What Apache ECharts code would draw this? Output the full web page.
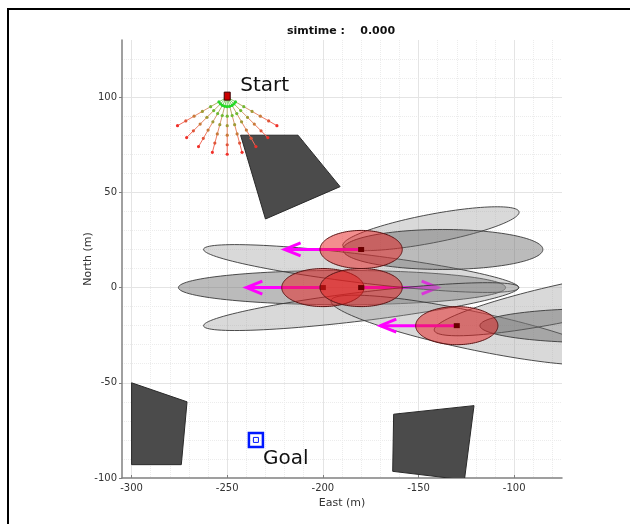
<!DOCTYPE html>
<html>
<head>
<meta charset="utf-8">
<script src="https://cdn.jsdelivr.net/npm/echarts@6/dist/echarts.min.js"></script>
<style>
  html, body { margin: 0; padding: 0; background: #ffffff; }
  #chart { width: 630px; height: 524px; }
</style>
</head>
<body>
<div id="chart"></div>
<script>
// ---- scene data (metres, East / North) ----
const simTime = '0.000';
const eastRange = [-305, -75];
const northRange = [-100, 130];

const robotStart = [-250, 100];
const startLabel = 'Start';
const goalPos = [-235, -80];
const goalLabel = 'Goal';

// range sensor: beam directions measured from due south, sample ranges along each beam
const beamAnglesDeg = [-60, -45, -30, -15, 0, 15, 30, 45, 60];
const beamRanges = [5, 10, 15, 20, 25, 30];

// static obstacles (polygon vertices)
const obstacleNorth = [[-243, 80], [-213, 80], [-191, 53], [-230, 36]];
const obstacleWest = [[-300, -50], [-271, -60], [-274, -93], [-300, -93]];
const obstacleSouth = [[-163, -66.5], [-121, -62], [-126, -101], [-163.5, -96.5]];

// moving agents: position and velocity
const agentEast = [-180, -200, -180, -130];
const agentNorth = [20, 0, 0, -20];
const agentVelEast = [-40, -40, 40, -40];
const agentVelNorth = [0, 0, 0, 0];
const agentSemiAxes = [21.5, 10];

// predicted spread ellipses: centre, semi-axes, heading (deg), tone (0 light, 1 medium)
const spreadEast  = [-190, -180, -180, -143.5, -137.3, -122.4, -68.4, -54.9];
const spreadNorth = [0, 10, -10, 30.9, 20, -22.4, -6.9, -20];
const spreadMajor = [85.5, 83, 83, 46.9, 52.3, 75, 75, 63];
const spreadMinor = [9, 7.5, 7.5, 7.5, 10.5, 10, 10, 9];
const spreadHeading = [0, -7, 7, 10.9, 0, -12, 12, 0];
const spreadTone = [1, 0, 0, 0, 1, 0, 0, 1];
const spreadLayer = [0, 1, 1, 1, 1, 1, 1, 1];

// ---- styling ----
const FONT = 'DejaVu Sans';
const toneFill = ['rgba(150,150,150,0.36)', 'rgba(105,105,105,0.45)'];
const beamDotColors = ['#2fd02f', '#72b832', '#a09a36', '#c87a3a', '#e0553a', '#f0302a'];
const beamLineColors = ['#7fcf6a', '#b9b06a', '#d89a70', '#e88a6a', '#ef7a62', '#f26a5a'];

function ellipseRing(cx, cy, a, b, rotDeg, api) {
  const th = rotDeg * Math.PI / 180;
  const pts = [];
  const n = 120;
  for (let i = 0; i < n; i++) {
    const t = i / n * 2 * Math.PI;
    const ex = a * Math.cos(t), ey = b * Math.sin(t);
    pts.push(api.coord([cx + ex * Math.cos(th) - ey * Math.sin(th),
                        cy + ex * Math.sin(th) + ey * Math.cos(th)]));
  }
  return pts;
}

function spreadSeries(layer, z) {
  const idx = [];
  spreadEast.forEach((_, i) => { if (spreadLayer[i] === layer) idx.push(i); });
  return {
    type: 'custom', z: z, clip: true, silent: true,
    data: idx.map(i => [spreadEast[i], spreadNorth[i], i]),
    renderItem: (params, api) => {
      const i = api.value(2);
      return {
        type: 'polygon',
        shape: { points: ellipseRing(spreadEast[i], spreadNorth[i], spreadMajor[i], spreadMinor[i], spreadHeading[i], api) },
        style: { fill: toneFill[spreadTone[i]], stroke: '#3a3a3a', lineWidth: 0.9 }
      };
    }
  };
}

function arrowSeries(agentIdx, z) {
  return {
    type: 'custom', z: z, clip: true, silent: true,
    data: agentIdx.map(i => [agentEast[i], agentNorth[i], i]),
    renderItem: (params, api) => {
      const i = api.value(2);
      const p0 = api.coord([agentEast[i], agentNorth[i]]);
      const p1 = api.coord([agentEast[i] + agentVelEast[i], agentNorth[i] + agentVelNorth[i]]);
      const dx = p1[0] - p0[0], dy = p1[1] - p0[1];
      const len = Math.hypot(dx, dy);
      const ux = dx / len, uy = dy / len;
      const hl = 16, hw = 6.5;
      const b1 = [p1[0] - ux * hl - uy * hw, p1[1] - uy * hl + ux * hw];
      const b2 = [p1[0] - ux * hl + uy * hw, p1[1] - uy * hl - ux * hw];
      const st = { stroke: '#ff00ff', lineWidth: 3, fill: 'none', lineJoin: 'miter' };
      return {
        type: 'group',
        children: [
          { type: 'polyline', shape: { points: [p0, p1] }, style: st },
          { type: 'polyline', shape: { points: [b1, p1, b2] }, style: st }
        ]
      };
    }
  };
}

const obstacles = [obstacleNorth, obstacleWest, obstacleSouth];

const chart = echarts.init(document.getElementById('chart'), null, { renderer: 'canvas' });

const option = {
  animation: false,
  backgroundColor: '#ffffff',
  textStyle: { fontFamily: FONT },
  grid: { left: 122, top: 40, right: 68, bottom: 46, containLabel: false },
  xAxis: {
    type: 'value', min: eastRange[0], max: eastRange[1],
    name: 'East (m)', nameLocation: 'middle', nameGap: 20, nameMoveOverlap: false,
    nameTextStyle: { color: '#333333', fontSize: 11, fontFamily: FONT },
    axisLine: { show: true, onZero: false, lineStyle: { color: '#808080', width: 1.5 } },
    axisTick: { show: true, inside: true, length: 3, lineStyle: { color: '#808080' } },
    axisLabel: { showMinLabel: false, showMaxLabel: false, color: '#333333', fontSize: 10, fontFamily: FONT, margin: 5 },
    splitLine: { show: true, showMinLine: false, showMaxLine: false, lineStyle: { color: '#e4e4e4', width: 1 } },
    minorTick: { show: false, splitNumber: 5 },
    minorSplitLine: { show: true, lineStyle: { color: '#ececec', type: 'dotted', width: 1 } }
  },
  yAxis: {
    type: 'value', min: northRange[0], max: northRange[1],
    name: 'North (m)', nameLocation: 'middle', nameGap: 28, nameRotate: 90, nameMoveOverlap: false,
    nameTextStyle: { color: '#333333', fontSize: 11, fontFamily: FONT },
    axisLine: { show: true, onZero: false, lineStyle: { color: '#808080', width: 1.5 } },
    axisTick: { show: true, inside: false, length: 3, lineStyle: { color: '#808080' } },
    axisLabel: { showMinLabel: true, showMaxLabel: false, color: '#333333', fontSize: 10, fontFamily: FONT, margin: 5 },
    splitLine: { show: true, showMinLine: false, showMaxLine: false, lineStyle: { color: '#e4e4e4', width: 1 } },
    minorTick: { show: false, splitNumber: 5 },
    minorSplitLine: { show: true, lineStyle: { color: '#ececec', type: 'dotted', width: 1 } }
  },
  graphic: [
    {
      type: 'polyline', silent: true, z: -10,
      shape: { points: [[8, 530], [8, 9], [640, 9]] },
      style: { fill: 'none', stroke: '#000000', lineWidth: 2 }
    },
    {
      type: 'text', silent: true, x: 341, y: 31,
      style: {
        text: 'simtime :    ' + simTime,
        font: 'bold 11px ' + FONT, fill: '#111111',
        align: 'center', verticalAlign: 'middle',
        textAlign: 'center', textVerticalAlign: 'middle'
      }
    }
  ],
  series: [
    // static obstacles
    {
      type: 'custom', z: 2, clip: true, silent: true,
      data: obstacles.map((poly, i) => [poly[0][0], poly[0][1], i]),
      renderItem: (params, api) => {
        const poly = obstacles[api.value(2)];
        return {
          type: 'polygon',
          shape: { points: poly.map(p => api.coord(p)) },
          style: { fill: '#4b4b4b', stroke: '#2a2a2a', lineWidth: 1 }
        };
      }
    },
    // range sensor fan
    {
      type: 'custom', z: 3, clip: true, silent: true,
      data: beamAnglesDeg.map(a => [robotStart[0], robotStart[1], a]),
      renderItem: (params, api) => {
        const ang = api.value(2) * Math.PI / 180;
        const o = api.coord(robotStart);
        const pts = beamRanges.map(r => api.coord([robotStart[0] + Math.sin(ang) * r, robotStart[1] - Math.cos(ang) * r]));
        const children = [];
        let prev = o;
        pts.forEach((p, k) => {
          children.push({ type: 'line', shape: { x1: prev[0], y1: prev[1], x2: p[0], y2: p[1] },
                          style: { stroke: beamLineColors[k], lineWidth: 1 } });
          prev = p;
        });
        pts.forEach((p, k) => {
          children.push({ type: 'circle', shape: { cx: p[0], cy: p[1], r: 1.6 },
                          style: { fill: beamDotColors[k] } });
        });
        return { type: 'group', children: children };
      }
    },
    // near-range arc of the sensor fan and the robot body
    {
      type: 'custom', z: 4, clip: true, silent: true,
      data: [[robotStart[0], robotStart[1]]],
      renderItem: (params, api) => {
        const r0 = beamRanges[0];
        const a0 = beamAnglesDeg[0], a1 = beamAnglesDeg[beamAnglesDeg.length - 1];
        const arc = [];
        for (let a = a0; a <= a1; a += 5) {
          const t = a * Math.PI / 180;
          arc.push(api.coord([robotStart[0] + Math.sin(t) * r0, robotStart[1] - Math.cos(t) * r0]));
        }
        const c = api.coord(robotStart);
        return {
          type: 'group',
          children: [
            { type: 'polyline', shape: { points: arc }, style: { stroke: '#22dd22', lineWidth: 1.5, fill: 'none' } },
            { type: 'rect', shape: { x: c[0] - 3, y: c[1] - 5, width: 6, height: 8 },
              style: { fill: '#cc0000', stroke: '#3a0000', lineWidth: 1 } }
          ]
        };
      }
    },
    // predicted spread of the moving agents
    spreadSeries(0, 5),
    arrowSeries([2], 6),
    spreadSeries(1, 7),
    arrowSeries([0, 1, 3], 8),
    // agent footprints
    {
      type: 'custom', z: 9, clip: true, silent: true,
      data: agentEast.map((x, i) => [x, agentNorth[i], i]),
      renderItem: (params, api) => {
        const i = api.value(2);
        const c = api.coord([agentEast[i], agentNorth[i]]);
        return {
          type: 'group',
          children: [
            { type: 'polygon',
              shape: { points: ellipseRing(agentEast[i], agentNorth[i], agentSemiAxes[0], agentSemiAxes[1], 0, api) },
              style: { fill: 'rgba(232,30,30,0.5)', stroke: '#5a1414', lineWidth: 1 } },
            { type: 'rect', shape: { x: c[0] - 3, y: c[1] - 2.5, width: 6, height: 5 },
              style: { fill: '#6a0000' } }
          ]
        };
      }
    },
    // start / goal markers and labels
    {
      type: 'custom', z: 10, clip: false, silent: true,
      data: [[goalPos[0], goalPos[1]]],
      renderItem: (params, api) => {
        const g = api.coord(goalPos);
        const s = api.coord(robotStart);
        return {
          type: 'group',
          children: [
            { type: 'rect', shape: { x: g[0] - 7, y: g[1] - 7, width: 14, height: 14 },
              style: { fill: 'none', stroke: '#0018ff', lineWidth: 2.5 } },
            { type: 'rect', shape: { x: g[0] - 2.5, y: g[1] - 2.5, width: 5, height: 5 },
              style: { fill: 'none', stroke: '#0018ff', lineWidth: 1 } },
            { type: 'text', x: g[0] + 7, y: g[1] + 19,
              style: { text: goalLabel, font: '20px ' + FONT, fill: '#111111',
                       align: 'left', verticalAlign: 'middle', textAlign: 'left', textVerticalAlign: 'middle' } },
            { type: 'text', x: s[0] + 13, y: s[1] - 11,
              style: { text: startLabel, font: '20px ' + FONT, fill: '#111111',
                       align: 'left', verticalAlign: 'middle', textAlign: 'left', textVerticalAlign: 'middle' } }
          ]
        };
      }
    }
  ]
};

chart.setOption(option);
</script>
</body>
</html>
